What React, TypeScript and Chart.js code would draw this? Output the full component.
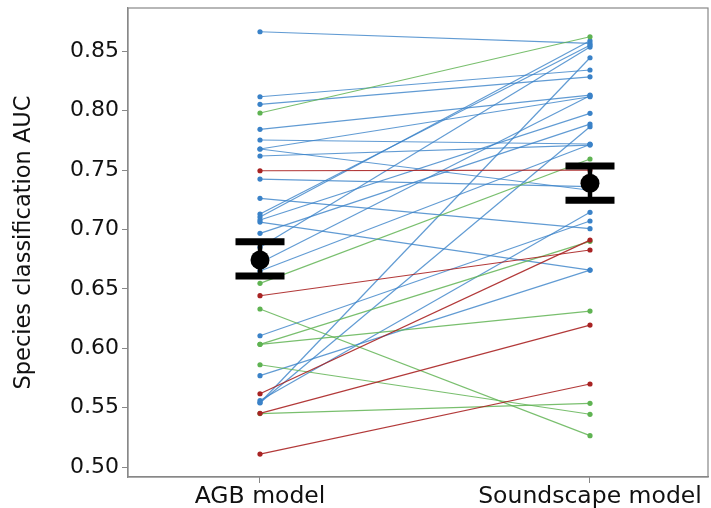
import React, { useEffect, useRef } from "react";
import { Chart, registerables } from "chart.js";

Chart.register(...registerables);

const categories = ["AGB model", "Soundscape model"];
const yTickValues = [0.5, 0.55, 0.6, 0.65, 0.7, 0.75, 0.8, 0.85];

// Paired values (AGB model -> Soundscape model), grouped by colour
const blueAGB = [0.8664, 0.8117, 0.8053, 0.7843, 0.7753, 0.7677, 0.7677, 0.7618, 0.7424, 0.7262, 0.713, 0.7104, 0.7079, 0.7062, 0.6967, 0.685, 0.672, 0.665, 0.6105, 0.5769, 0.5541, 0.5541, 0.556];
const blueSoundscape = [0.8566, 0.8342, 0.8285, 0.8131, 0.7719, 0.8117, 0.733, 0.771, 0.736, 0.7006, 0.855, 0.8588, 0.7977, 0.6658, 0.7887, 0.8535, 0.8125, 0.7715, 0.7071, 0.6658, 0.8445, 0.7865, 0.7144];
const greenAGB = [0.798, 0.6546, 0.633, 0.6033, 0.6033, 0.5861, 0.545];
const greenSoundscape = [0.8622, 0.7593, 0.5264, 0.69, 0.6313, 0.5444, 0.5536];
const redAGB = [0.7494, 0.6442, 0.5617, 0.5452, 0.5109];
const redSoundscape = [0.75, 0.6827, 0.691, 0.6195, 0.5699];

const meanValues = [0.6742, 0.7388];
const errLow = [0.6608, 0.7245];
const errHigh = [0.6896, 0.7534];

const BLUE = "rgba(58, 130, 200, 0.8)";
const BLUE_DOT = "#3a82c8";
const GREEN = "rgba(98, 180, 85, 0.85)";
const GREEN_DOT = "#5fb352";
const RED = "rgba(170, 35, 35, 0.9)";
const RED_DOT = "#a82323";
const FONT = "'DejaVu Sans', sans-serif";

function pairDatasets(a: number[], b: number[], line: string, dot: string) {
  return a.map((v, i) => ({
    type: "scatter" as const,
    data: [
      { x: 0, y: v },
      { x: 1, y: b[i] },
    ],
    showLine: true,
    borderColor: line,
    borderWidth: 1.2,
    backgroundColor: dot,
    pointBackgroundColor: dot,
    pointBorderWidth: 0,
    pointRadius: 2.6,
    order: 1,
  }));
}

const framePlugin = {
  id: "frame",
  afterDraw(chart: any) {
    const { ctx, chartArea } = chart;
    ctx.save();
    ctx.strokeStyle = "#888";
    ctx.lineWidth = 1.2;
    ctx.strokeRect(chartArea.left, chartArea.top, chartArea.right - chartArea.left, chartArea.bottom - chartArea.top);
    ctx.restore();
  },
};

export default function App() {
  const ref = useRef<HTMLCanvasElement>(null);
  useEffect(() => {
    if (!ref.current) return;
    const datasets: any[] = [];
    for (let i = 0; i < 2; i++) {
      datasets.push({
        type: "scatter",
        data: [{ x: i, y: meanValues[i] }],
        pointRadius: 9.5,
        pointBackgroundColor: "#000",
        pointBorderWidth: 0,
        order: -3,
      });
      datasets.push({
        type: "scatter",
        data: [
          { x: i, y: errLow[i] },
          { x: i, y: errHigh[i] },
        ],
        showLine: true,
        borderColor: "#000",
        borderWidth: 4.5,
        pointStyle: "line",
        pointRadius: 24.5,
        pointBorderColor: "#000",
        pointBorderWidth: 7,
        order: -2,
      });
    }
    datasets.push(...pairDatasets(redAGB, redSoundscape, RED, RED_DOT));
    datasets.push(...pairDatasets(greenAGB, greenSoundscape, GREEN, GREEN_DOT));
    datasets.push(...pairDatasets(blueAGB, blueSoundscape, BLUE, BLUE_DOT));

    const chart = new Chart(ref.current, {
      type: "scatter",
      data: { datasets },
      plugins: [framePlugin],
      options: {
        animation: false,
        responsive: false,
        layout: { autoPadding: false, padding: { top: 8, right: 3, left: 0, bottom: 0 } },
        plugins: { legend: { display: false }, tooltip: { enabled: false } },
        scales: {
          x: {
            type: "linear",
            min: -0.4,
            max: 1.3576,
            afterBuildTicks: (s: any) => {
              s.ticks = categories.map((_, i) => ({ value: i }));
            },
            afterFit: (s: any) => {
              s.height = 31;
              s.paddingLeft = 0;
              s.paddingRight = 0;
            },
            ticks: {
              callback: (v: any) => categories[Number(v)] ?? "",
              font: { family: FONT, size: 23.5 },
              color: "#111",
              padding: 0,
              maxRotation: 0,
              autoSkip: false,
            },
            grid: {
              drawOnChartArea: false,
              drawTicks: true,
              tickLength: 6,
              color: "#888",
            },
            border: { color: "#888", width: 1.2 },
          },
          y: {
            type: "linear",
            min: 0.4916,
            max: 0.8864,
            afterBuildTicks: (s: any) => {
              s.ticks = yTickValues.map((v) => ({ value: v }));
            },
            afterFit: (s: any) => {
              s.width = 128;
              s.paddingTop = 0;
              s.paddingBottom = 0;
            },
            ticks: {
              callback: (v: any) => Number(v).toFixed(2),
              font: { family: FONT, size: 22 },
              color: "#111",
              padding: 3,
            },
            grid: {
              drawOnChartArea: false,
              drawTicks: true,
              tickLength: 6,
              color: "#888",
            },
            border: { color: "#888", width: 1.2 },
            title: {
              display: true,
              text: "Species classification AUC",
              font: { family: FONT, size: 22.5 },
              color: "#111",
              padding: { top: 11, bottom: 0 },
            },
          },
        },
      },
    });
    return () => chart.destroy();
  }, []);
  return (
    <div style={{ position: "fixed", left: 0, top: 0, width: 711, height: 508, background: "#fff" }}>
      <canvas ref={ref} width={711} height={508} />
    </div>
  );
}
